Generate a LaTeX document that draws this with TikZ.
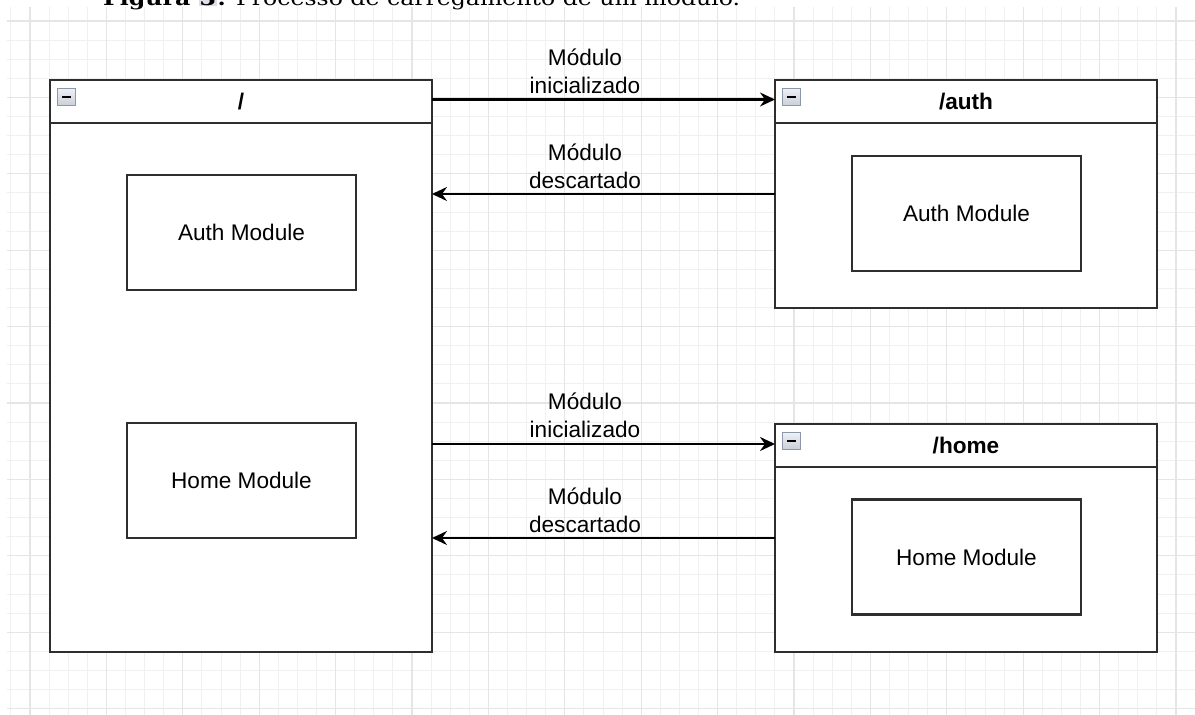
\documentclass[tikz,border=0pt]{standalone}
\usepackage{fontspec}
\setmainfont{Liberation Sans}
\newfontfamily\capfont{DejaVu Serif}
\usetikzlibrary{arrows.meta,calc}
\definecolor{gridminor}{HTML}{F0F0F0}
\definecolor{gridmajor}{HTML}{E5E5E5}
\definecolor{boxline}{HTML}{2E2E2E}
\definecolor{icontop}{HTML}{EEF0F4}
\definecolor{iconbot}{HTML}{C9CED8}
\definecolor{iconline}{HTML}{8C97AA}
\definecolor{hl}{HTML}{DDE0E6}
\tikzset{
  txt/.style={font=\fontsize{22.6}{28}\selectfont, inner sep=0pt, outer sep=0pt, text=black},
  container/.style={draw=boxline, line width=2.2pt, fill=white, rectangle, anchor=north west,
    minimum width=382pt, inner sep=0pt, outer sep=0pt},
  modbox/.style={draw=boxline, line width=2.2pt, fill=white, rectangle, minimum width=229pt,
    minimum height=115pt, inner sep=0pt, outer sep=0pt, txt},
  headline/.style={draw=boxline, line width=2.2pt},
  title/.style={txt, font=\fontsize{22.6}{28}\selectfont\bfseries},
  icon/.style={draw=iconline, line width=1pt, top color=icontop, bottom color=iconbot,
    minimum size=17.5pt, inner sep=0pt,
    path picture={\draw[black, line width=2.2pt]
      ([xshift=-4.5pt]path picture bounding box.center) -- ([xshift=4.5pt]path picture bounding box.center);}},
  arr/.style={draw=black, line width=2.1pt, -{Stealth[length=15pt,width=14pt,inset=5pt]}},
  lbl/.style={txt, align=center}
}
\begin{document}
\begin{tikzpicture}[x=1pt,y=-1pt]
\useasboundingbox (0,0) rectangle (1195,715);
\fill[white] (0,0) rectangle (1195,715);
% grid
\begin{scope}
\clip (7,7) rectangle (1195,715);
\foreach \i in {-1,...,61} {\draw[gridminor, line width=1pt] ({30+19.1*\i},7) -- ({30+19.1*\i},715);}
\foreach \j in {-1,...,37} {\draw[gridminor, line width=1pt] (7,{21+19.1*\j}) -- (1195,{21+19.1*\j});}
\foreach \k in {0,...,15} {\draw[gridmajor, line width=1.2pt] ({30+76.4*\k},7) -- ({30+76.4*\k},715);}
\foreach \k in {0,...,9} {\draw[gridmajor, line width=1.2pt] (7,{21+76.4*\k}) -- (1195,{21+76.4*\k});}
\end{scope}
% caption (cut off at the top)
\begin{scope}
\clip (0,0) rectangle (1195,715);
\setlength{\fboxsep}{1pt}
\node[anchor=base west, inner sep=0pt, font=\capfont\fontsize{20}{24}\selectfont] (cap) at (103,5)
  {\scalebox{1.18}[1]{\textbf{Figura \colorbox{hl}{3}:} Processo de carregamento de um módulo.}};
\end{scope}
% containers
\node[container, minimum height=572pt] (root) at (50,80) {};
\node[container, minimum height=228pt] (auth) at (775,80) {};
\node[container, minimum height=228pt] (home) at (775,424) {};
\draw[headline] ([yshift=-43pt]root.north west) -- ([yshift=-43pt]root.north east);
\draw[headline] ([yshift=-43pt]auth.north west) -- ([yshift=-43pt]auth.north east);
\draw[headline] ([yshift=-43pt]home.north west) -- ([yshift=-43pt]home.north east);
\node[title] (rootT) at ($(root.north)+(0,21.5)$) {/};
\node[title] (authT) at ($(auth.north)+(0,21.5)$) {/auth};
\node[title] (homeT) at ($(home.north)+(0,21.5)$) {/home};
\node[icon] (rootI) at ($(root.north west)+(16.5,17.2)$) {};
\node[icon] (authI) at ($(auth.north west)+(16.5,17.2)$) {};
\node[icon] (homeI) at ($(home.north west)+(16.5,17.2)$) {};
% modules
\node[modbox] (rootA) at (241.5,232.5) {Auth Module};
\node[modbox] (rootH) at (241.5,480.5) {Home Module};
\node[modbox] (authM) at (966.5,213.5) {Auth Module};
\node[modbox] (homeM) at (966.5,557) {Home Module};
% connectors
\coordinate (a1s) at ($(root.north east)+(0,19.5)$);
\coordinate (a3s) at ($(root.north east)+(0,364)$);
\draw[arr] (a1s) -- (a1s -| auth.west);
\draw[arr] (auth.west) -- (auth.west -| root.east);
\draw[arr] (a3s) -- (a3s -| home.west);
\draw[arr] (home.west) -- (home.west -| root.east);
% labels
\node[lbl] (l1) at (585,71) {Módulo\\inicializado};
\node[lbl] (l2) at (585,166) {Módulo\\descartado};
\node[lbl] (l3) at (585,415) {Módulo\\inicializado};
\node[lbl] (l4) at (585,510) {Módulo\\descartado};
\end{tikzpicture}
\end{document}
